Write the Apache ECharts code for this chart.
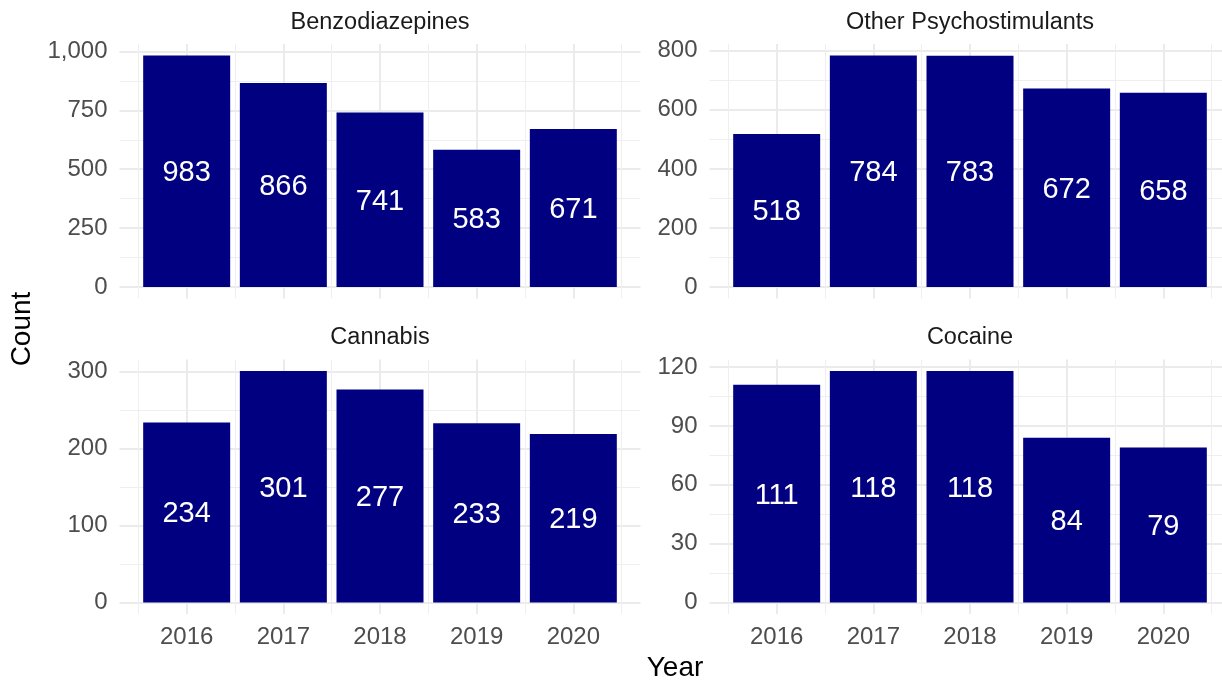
<!DOCTYPE html>
<html>
<head>
<meta charset="utf-8">
<script src="https://cdn.jsdelivr.net/npm/echarts@6/dist/echarts.min.js"></script>
<style>
  html, body { margin: 0; padding: 0; background: #ffffff; }
  #chart { width: 1222px; height: 681px; }
</style>
</head>
<body>
<div id="chart"></div>
<script>
// ---- data ----
const years = [2016, 2017, 2018, 2019, 2020];
const panelTitles = ['Benzodiazepines', 'Other Psychostimulants', 'Cannabis', 'Cocaine'];
const benzoCounts = [983, 866, 741, 583, 671];
const psychoCounts = [518, 784, 783, 672, 658];
const cannabisCounts = [234, 301, 277, 233, 219];
const cocaineCounts = [111, 118, 118, 84, 79];
const benzoTicks = [0, 250, 500, 750, 1000];
const psychoTicks = [0, 200, 400, 600, 800];
const cannabisTicks = [0, 100, 200, 300];
const cocaineTicks = [0, 30, 60, 90, 120];
const xTitle = 'Year';
const yTitle = 'Count';

// ---- layout ----
const FONT = '"Liberation Sans", Arial, Helvetica, sans-serif';
const panelBoxes = [
  { left: 119.5, top: 44, width: 521, height: 254.5 },
  { left: 709.5, top: 44, width: 521, height: 254.5 },
  { left: 119.5, top: 359.5, width: 521, height: 254.5 },
  { left: 709.5, top: 359.5, width: 521, height: 254.5 }
];
const panelData = [benzoCounts, psychoCounts, cannabisCounts, cocaineCounts];
const panelTicks = [benzoTicks, psychoTicks, cannabisTicks, cocaineTicks];
const showXLabels = [false, false, true, true];

const barW = 0.9;
const xLo0 = years[0] - barW / 2, xHi0 = years[years.length - 1] + barW / 2;
const xPad = (xHi0 - xLo0) * 0.05;
const xMin = xLo0 - xPad, xMax = xHi0 + xPad;

const grids = [], xAxes = [], yAxes = [], series = [], graphics = [];
const MAJOR = '#EBEBEB', MINOR = '#EFEFEF';
const TICKFS = 24;

function mkGrid(r) {
  return Object.assign({ outerBoundsMode: 'none', containLabel: false }, r);
}

panelBoxes.forEach((box, p) => {
  const vals = panelData[p];
  const ticks = panelTicks[p];
  const dMax = Math.max(0, ...vals), dMin = Math.min(0, ...vals);
  const yPad = (dMax - dMin) * 0.05;
  const yMin = dMin - yPad, yMax = dMax + yPad;
  const xPx = v => box.left + (v - xMin) / (xMax - xMin) * box.width;
  const yPx = v => box.top + box.height - (v - yMin) / (yMax - yMin) * box.height;
  const unitPx = box.width / (xMax - xMin);

  // Grid: minor vertical lines (half years)
  let gi = grids.length;
  grids.push(mkGrid({ left: xPx(years[0] - 0.5), top: box.top, width: xPx(years[years.length-1] + 0.5) - xPx(years[0] - 0.5), height: box.height }));
  xAxes.push({ type: 'value', gridIndex: gi, min: years[0] - 0.5, max: years[years.length-1] + 0.5, interval: 1,
    axisLine: { show: false }, axisTick: { show: false }, axisLabel: { show: false },
    splitLine: { show: true, lineStyle: { color: MINOR, width: 1 } } });
  yAxes.push({ type: 'value', gridIndex: gi, min: 0, max: 1, show: false, splitLine: { show: false } });

  // Grid: major vertical lines + year labels
  gi = grids.length;
  grids.push(mkGrid({ left: xPx(years[0]), top: box.top, width: xPx(years[years.length-1]) - xPx(years[0]), height: box.height }));
  xAxes.push({ type: 'value', gridIndex: gi, min: years[0], max: years[years.length-1], interval: 1,
    axisLine: { show: false }, axisTick: { show: false },
    axisLabel: { show: showXLabels[p], color: '#4D4D4D', fontSize: TICKFS, fontFamily: FONT, margin: 11,
      formatter: v => String(v) },
    splitLine: { show: true, lineStyle: { color: MAJOR, width: 2 } } });
  yAxes.push({ type: 'value', gridIndex: gi, min: 0, max: 1, show: false, splitLine: { show: false } });

  // Grid: horizontal lines + count labels
  gi = grids.length;
  const t0 = ticks[0], t1 = ticks[ticks.length - 1];
  grids.push(mkGrid({ left: box.left, top: yPx(t1), width: box.width, height: yPx(t0) - yPx(t1) }));
  xAxes.push({ type: 'value', gridIndex: gi, min: xMin, max: xMax, show: false, splitLine: { show: false } });
  yAxes.push({ type: 'value', gridIndex: gi, min: t0, max: t1, interval: ticks[1] - ticks[0],
    axisLine: { show: false }, axisTick: { show: false },
    minorTick: { show: false, splitNumber: 2 },
    axisLabel: { color: '#4D4D4D', fontSize: TICKFS, fontFamily: FONT, margin: 12,
      formatter: v => Number(v).toLocaleString('en-US') },
    splitLine: { show: true, lineStyle: { color: MAJOR, width: 2 } },
    minorSplitLine: { show: true, lineStyle: { color: MINOR, width: 1 } } });

  // Grid: bars
  gi = grids.length;
  grids.push(mkGrid({ left: box.left, top: box.top, width: box.width, height: box.height }));
  xAxes.push({ type: 'value', gridIndex: gi, min: xMin, max: xMax, show: false, splitLine: { show: false } });
  yAxes.push({ type: 'value', gridIndex: gi, min: yMin, max: yMax, show: false, splitLine: { show: false } });
  series.push({
    type: 'bar', xAxisIndex: gi, yAxisIndex: gi,
    data: years.map((y, i) => [y, vals[i]]),
    barWidth: unitPx * barW,
    itemStyle: { color: '#000080' },
    label: { show: true, position: 'inside', color: '#ffffff', fontSize: 29, fontFamily: FONT,
      offset: [0, 2], formatter: prm => String(prm.value[1]) },
    silent: true, animation: false, z: 5
  });

  // strip title
  graphics.push({ type: 'text', x: box.left + box.width / 2, y: box.top - 21.5,
    style: { text: panelTitles[p], fill: '#1A1A1A', font: '23.5px ' + FONT, align: 'center', verticalAlign: 'middle' } });
});

graphics.push({ type: 'text', x: (panelBoxes[0].left + panelBoxes[1].left + panelBoxes[1].width) / 2, y: 668.5,
  style: { text: xTitle, fill: '#000000', font: '28px ' + FONT, align: 'center', verticalAlign: 'middle' } });
graphics.push({ type: 'text', x: 22.5, y: (panelBoxes[0].top + panelBoxes[2].top + panelBoxes[2].height) / 2, rotation: Math.PI / 2,
  style: { text: yTitle, fill: '#000000', font: '28px ' + FONT, align: 'center', verticalAlign: 'middle' } });

const chart = echarts.init(document.getElementById('chart'), null, { renderer: 'canvas' });
chart.setOption({
  animation: false,
  backgroundColor: '#ffffff',
  grid: grids,
  xAxis: xAxes,
  yAxis: yAxes,
  series: series,
  graphic: graphics
});
</script>
</body>
</html>
